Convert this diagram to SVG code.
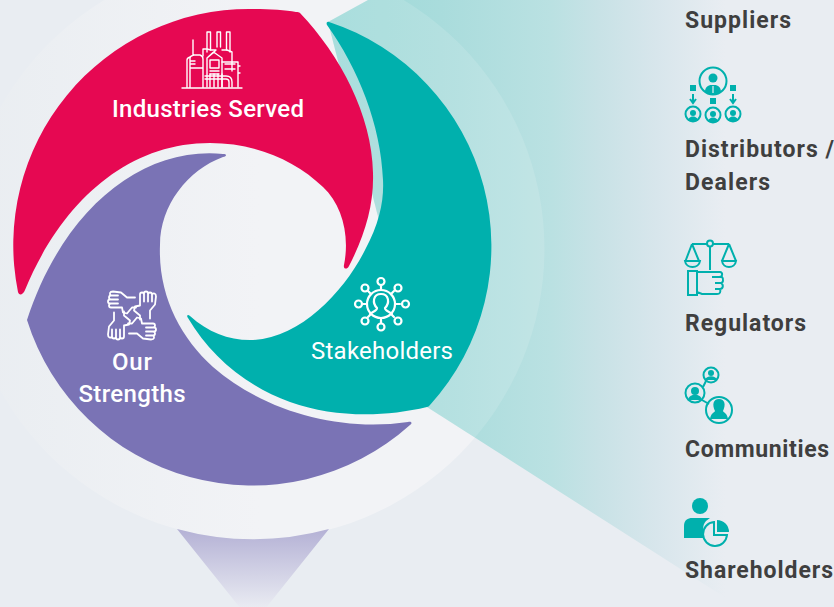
<svg xmlns="http://www.w3.org/2000/svg" width="834" height="607" viewBox="0 0 834 607">
<style>
.lab{font-family:"Roboto","Liberation Sans",sans-serif;font-weight:700;font-size:23px;fill:#3f3f3f}
.w{font-family:"Roboto","Liberation Sans",sans-serif;font-size:24px;fill:#fff;text-anchor:middle;font-weight:500}
.wi{fill:none;stroke:#fff;stroke-width:2;stroke-linejoin:round;stroke-linecap:round}
.ti{fill:none;stroke:#00b0ad;stroke-width:2}
.tf{fill:#00b0ad}
</style>
<defs>
<linearGradient id="beam" gradientUnits="userSpaceOnUse" x1="330" y1="0" x2="725" y2="0"><stop offset="0" stop-color="#9ddad8"/><stop offset=".28" stop-color="#a9dcdc"/><stop offset=".56" stop-color="#bae1e2"/><stop offset=".68" stop-color="#c8e2e6"/><stop offset=".83" stop-color="#d8e6ec"/><stop offset="1" stop-color="#e9edf2"/></linearGradient>
<linearGradient id="tri" gradientUnits="userSpaceOnUse" x1="0" y1="529" x2="0" y2="607"><stop offset="0" stop-color="#b4b1d5"/><stop offset="1" stop-color="#e9ebf2"/></linearGradient>
<linearGradient id="haloG" gradientUnits="userSpaceOnUse" x1="-40" y1="0" x2="260" y2="0"><stop offset="0" stop-color="#e9edf1"/><stop offset="1" stop-color="#f2f3f6"/></linearGradient>
<clipPath id="haloClip"><circle cx="254" cy="249" r="290.500"/></clipPath>
<path id="hand" d="M8-10V-21Q8-23 10-23T12-21V-22Q12-24 14-24T16-22V-21Q16-23 18-23T20-21Q21-22.500 22.500-22T24-19L23-11L18-5V3M12-21V-14M16-21V-14M20-21V-14M8-10L3-9L2-5L8 0V4"/>
</defs>
<rect id="background" width="834" height="607" fill="#e9edf2"/>
<circle id="halo" cx="254" cy="249" r="290.500" fill="url(#haloG)"/>
<g id="connectors">
<path id="beam-shape" d="M328 22L368 0H760V607H740L427 407Z" fill="url(#beam)"/>
<path d="M328 22L368 0H760V607H740L427 407Z" fill="#fff" fill-opacity=".13" clip-path="url(#haloClip)"/>
<path id="pointer" d="M177 529A290.500 290.500 0 0 0 329 529L253 624Z" fill="url(#tri)"/>
</g>
<g id="industries-served">
<path fill="#e60852" d="M18 292A236 236 0 0 1 250 9C268 9 285 10 296 12C298 12 299 12 300 13C340 55 372 115 373 173C374 205 365 235 349 266C347 270 343 269 344 265C350 235 342 205 323 187C295 160 255 143 210 143C125 143 60 205 25 290C23 295 19 296 18 292Z"/>
<g class="wi" style="stroke-width:1.400">
<path d="M182 88H242M187 87V60Q187 58 190 57M190 87V58Q190 56 194 55H200Q203 56 203 59V87M193 55V40M190 68H203M191 61H195M191 64H195"/>
<path d="M207 52V32H210.500V50M217 47V32H220.500V47M226.500 50V32H230V52"/>
<path d="M203 56V49H207L211 50H216L213 53L207 58V87M207 58L213.500 52L222 58V87M222 50H227L232 52V62M210 60H219V68H210ZM210 71H219M210 74H219"/>
<path d="M222 62H238V87M225 64H235M225 69H235M232 62V71M238 66H240M238 73H240"/>
<path d="M205 76H226M205 79H226M210 74V87M214 74V87M218 74V87M222 74V87M226 76Q232 76 232 82V87M226 79Q229 79 229 82V87"/>
</g>
<text class="w" x="208" y="117" textLength="192">Industries Served</text>
</g>
<g id="stakeholders">
<path fill="#00b0ad" d="M329 22A236 236 0 0 1 430 405C429 406 428 407 427 407C385 417 335 418 290 402C245 386 210 355 188 318C186 315 188 314 190 316C208 332 228 340 250 340C300 340 345 290 365 250C380 222 384 200 383 180C381 125 358 68 327 25C326 23 327 21 329 22Z"/>
<g class="wi" style="stroke-width:2.200">
<circle cx="381" cy="304" r="14"/>
<path d="M370 314C373 311 377 311 377 308C372 303 373 294 381 294C389 294 390 303 385 308C385 311 389 311 392 314"/>
<path d="M381 290V285M381 318V323M367 304H362M395 304H400M371 294L368 291M391 294L394 291M371 314L368 317M391 314L394 317"/>
<circle cx="381" cy="281.500" r="3.500"/><circle cx="381" cy="327" r="3.500"/><circle cx="358.500" cy="304" r="3.500"/><circle cx="405.500" cy="304" r="3.500"/><circle cx="365" cy="288" r="3.500"/><circle cx="398" cy="288" r="3.500"/><circle cx="365" cy="321" r="3.500"/><circle cx="398" cy="321" r="3.500"/>
</g>
<text class="w" x="382" y="359" style="font-weight:400" textLength="142">Stakeholders</text>
</g>
<g id="our-strengths">
<path fill="#7a73b5" d="M223 154C140 146 62 212 27 320A236 236 0 0 0 410 425C413 423 411 421 408 422C340 432 265 412 213 367C180 337 158 295 160 245C160 205 188 170 223 157C227 156 227 154 223 154Z"/>
<g class="wi" style="stroke-width:1.800">
<use href="#hand" transform="translate(132 315.500)"/>
<use href="#hand" transform="translate(132 315.500) rotate(90)"/>
<use href="#hand" transform="translate(132 315.500) rotate(180)"/>
<use href="#hand" transform="translate(132 315.500) rotate(270)"/>
</g>
<text class="w" x="132" y="370" textLength="40">Our</text>
<text class="w" x="132" y="402" textLength="107">Strengths</text>
</g>
<g id="suppliers"><text class="lab" x="685" y="27.500" textLength="106">Suppliers</text></g>
<g id="distributors">
<circle class="ti" cx="713" cy="81" r="13.500"/>
<path class="tf" d="M705 92C705 87 708 86 710 85H716C718 86 721 87 721 92L717 94H709Z"/><circle class="tf" cx="713" cy="78" r="4.500"/><path d="M713 86V93" stroke="#e9edf2" stroke-width="1.200"/>
<rect class="tf" x="690" y="85" width="6" height="6"/><rect class="tf" x="730" y="85" width="6" height="6"/><rect class="tf" x="710" y="98" width="6" height="6"/>
<path class="ti" d="M693 94V102M690 99L693 103L696 99M733 94V102M730 99L733 103L736 99"/>
<g id="d-people">
<circle class="ti" cx="693" cy="114" r="7.500"/><circle class="ti" cx="713" cy="115" r="7.500"/><circle class="ti" cx="733" cy="114" r="7.500"/>
<path class="tf" d="M688 121C688 115 698 115 698 121ZM708 122C708 116 718 116 718 122ZM728 121C728 115 738 115 738 121Z"/>
<circle class="tf" cx="693" cy="113" r="3"/><circle class="tf" cx="713" cy="114" r="3"/><circle class="tf" cx="733" cy="113" r="3"/>
</g>
<text class="lab" x="685" y="157" textLength="149">Distributors /</text>
<text class="lab" x="685" y="190" textLength="85">Dealers</text>
</g>
<g id="regulators">
<circle class="ti" cx="710" cy="243.500" r="3"/>
<path class="ti" d="M710 246.500V270M692 244H707M713 244H729M692 244L685.500 261M692 244L699 261M729 244L722 261M729 244L736 261M685 261H700C699 269 686 269 685 261ZM722 261H736C735 269 723 269 722 261Z"/>
<path class="ti" d="M688 271H697V295H688ZM697 272H720C723 272 723 277 719 277M712 277H722C724 279 723 283 721 283H715M721 283C724 285 723 289 720 289H715M720 289C721 292 720 294 717 294H702L697 292"/>
<text class="lab" x="685" y="330.500" textLength="121">Regulators</text>
</g>
<g id="communities">
<circle class="ti" cx="711" cy="375" r="7.500"/><circle class="ti" cx="695" cy="393" r="9.500"/><circle class="ti" cx="719" cy="410" r="13"/>
<path class="ti" d="M703 387L706 381M702 400L709 404"/>
<circle class="tf" cx="711" cy="373" r="3"/><path class="tf" d="M705 380C706 375 716 375 717 380Z"/>
<circle class="tf" cx="695" cy="391" r="4"/><path class="tf" d="M688 400C689 393 701 393 702 400Z"/>
<path class="tf" d="M710 419C711 413 714 413 715 411C712 405 713 399 719 399C725 399 726 405 723 411C724 413 727 413 728 419Z"/>
<text class="lab" x="685" y="457" textLength="144">Communities</text>
</g>
<g id="shareholders">
<circle class="tf" cx="700" cy="506" r="8"/>
<path class="tf" d="M684 538V526C684 520 688 518 692 518H710L706 521C702 525 703 532 704 538Z"/>
<path class="ti" d="M714 522A12 12 0 1 0 727 535H714Z"/>
<path class="tf" d="M717 520A12 12 0 0 1 729 532H717Z"/>
<text class="lab" x="685" y="577.500" textLength="148">Shareholders</text>
</g>
</svg>
